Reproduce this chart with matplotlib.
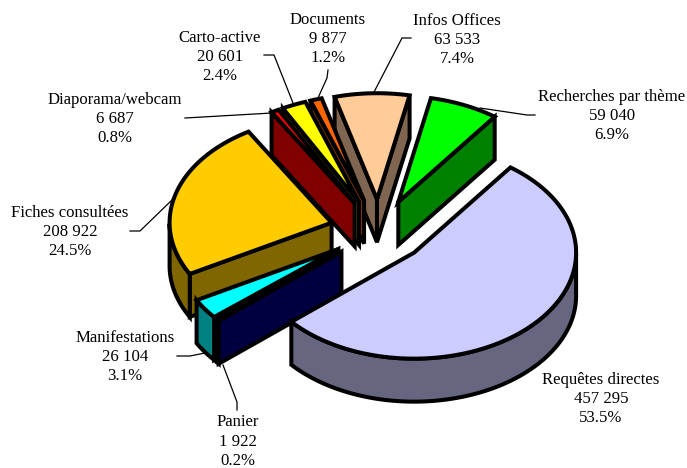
import numpy as np
import matplotlib
matplotlib.use("Agg")
import matplotlib.pyplot as plt
from matplotlib.patches import Polygon

labels = ["Requêtes directes", "Panier", "Manifestations", "Fiches consultées",
          "Diaporama/webcam", "Carto-active", "Documents", "Infos Offices",
          "Recherches par thème"]
values = [457295, 1922, 26104, 208922, 6687, 20601, 9877, 63533, 59040]

top_colors = ["#CCCCFF", "#000080", "#00FFFF", "#FFCC00", "#FF0000",
              "#FFFF00", "#FF6600", "#FFCC99", "#00FF00"]
side_colors = ["#666680", "#000040", "#008080", "#806600", "#800000",
               "#808000", "#803300", "#806650", "#008000"]

# where the text goes (centre x, centre y of the block)
label_pos = [(601, 399), (238, 441.5), (125, 357), (70, 232), (115, 119),
             (220, 57), (328, 39), (457, 40), (612, 116)]
# leader lines, none for the big slice
leaders = [None,
           [(237, 410), (237, 402), (223, 365)],
           [(177, 356), (190, 356), (205, 353)],
           [(130, 231), (140, 231), (173, 199)],
           [(185, 118), (272, 113)],
           [(264, 55), (274, 55), (293, 103)],
           [(328, 70), (327, 78), (318, 98)],
           [(411, 38), (402, 38), (373, 94)],
           [(535, 115), (527, 115), (480, 108)]]

# painter order, back to front
draw_order = [7, 8, 6, 5, 4, 3, 2, 1, 0]

cx, cy = 378.5, 231
rx, ry = 162, 106
depth = 43
explode = 0.3
start_angle = 53.5
lw = 2.9

plt.rcParams['font.family'] = ['Liberation Serif', 'DejaVu Serif']

fig = plt.figure(figsize=(6.87, 4.68), dpi=100)
ax = fig.add_axes([0, 0, 1, 1])
ax.set_xlim(0, 687)
ax.set_ylim(468, 0)
ax.axis('off')


def pt(x0, y0, a):
    r = np.radians(a)
    return x0 + rx * np.cos(r), y0 - ry * np.sin(r)


def add_poly(points, color, z):
    ax.add_patch(Polygon(points, closed=True, facecolor=color, edgecolor='black',
                         linewidth=lw, joinstyle='miter', zorder=z))


total = sum(values)
spans = [v / total * 360 for v in values]
ends = np.cumsum(spans)

z = 1
for i in draw_order:
    a1 = start_angle - (ends[i] - spans[i])
    a2 = start_angle - ends[i]
    mid = np.radians((a1 + a2) / 2)
    x0 = cx + explode * rx * np.cos(mid)
    y0 = cy - explode * ry * np.sin(mid)

    # cut faces
    if np.cos(np.radians(a1)) < 0:
        p = pt(x0, y0, a1)
        add_poly([(x0, y0), p, (p[0], p[1] + depth), (x0, y0 + depth)], side_colors[i], z)
        z += 1
    if np.cos(np.radians(a2)) > 0:
        p = pt(x0, y0, a2)
        add_poly([(x0, y0), p, (p[0], p[1] + depth), (x0, y0 + depth)], side_colors[i], z)
        z += 1

    # outer wall, only the part that faces us
    n = max(int(abs(a1 - a2)), 4)
    arc = np.linspace(a1, a2, n)
    front = arc[np.sin(np.radians(arc)) < 0]
    if len(front) > 1:
        upper = [pt(x0, y0, a) for a in front]
        lower = [(x, y + depth) for x, y in upper[::-1]]
        add_poly(upper + lower, side_colors[i], z)
        z += 1

    # top
    add_poly([(x0, y0)] + [pt(x0, y0, a) for a in arc], top_colors[i], z)
    z += 1

for i in range(len(labels)):
    s = f"{labels[i]}\n{values[i]:,}\n{values[i] / total * 100:.1f}%".replace(",", " ")
    ax.text(label_pos[i][0], label_pos[i][1], s, ha='center', va='center',
            fontsize=12.1, linespacing=1.28, color='black', zorder=100)
    if leaders[i]:
        xs, ys = zip(*leaders[i])
        ax.plot(xs, ys, color='black', linewidth=0.9, zorder=z + 1)

fig.savefig("out.png", dpi=100)
